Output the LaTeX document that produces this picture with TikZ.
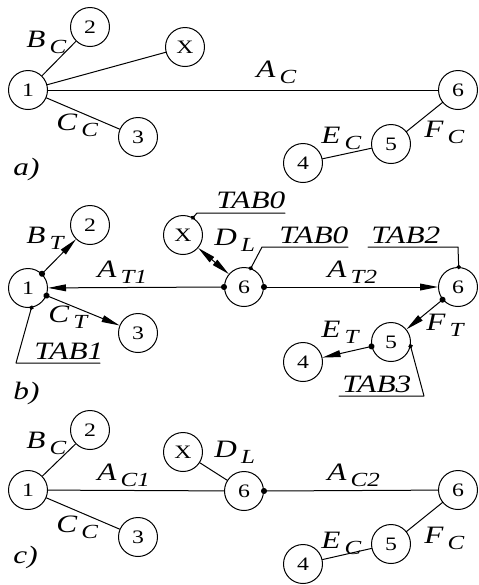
\documentclass[tikz,border=0pt]{standalone}
\usepackage{fontspec}
\setmainfont{Liberation Serif}[FakeStretch=1.25]
\usetikzlibrary{arrows.meta}
\newcommand{\lbl}[2]{\textit{#1}\,\raisebox{-3pt}{\fontsize{10}{11}\selectfont\textit{#2}}}

\begin{document}
\begin{tikzpicture}[x=0.5pt,y=-0.5pt,line cap=round,line join=round,
  stn/.style={circle,draw,line width=0.5pt,minimum size=19.5pt,inner sep=0pt,font=\fontsize{9.5}{10}\selectfont},
  lab/.style={anchor=base west,inner sep=0pt,font=\fontsize{12.5}{13}\selectfont\itshape},
  edge/.style={line width=0.5pt},
  flow/.style={line width=0.5pt,{Circle[length=3pt]}-{Triangle[length=9pt,width=3.4pt]},shorten <=-1.5pt},
  both/.style={line width=0.5pt,{Triangle[length=9pt,width=3.4pt]}-{Triangle[length=9pt,width=3.4pt]}},
  leader/.style={line width=0.5pt,{Circle[length=2.2pt]}-,shorten <=-1.1pt}]
  \useasboundingbox (0,0) rectangle (478,585);
  % a)
  \node[stn] (a1) at (28,90) {1};
  \node[stn] (a2) at (90,27) {2};
  \node[stn] (aX) at (185,47) {X};
  \node[stn] (a3) at (138,137) {3};
  \node[stn] (a6) at (458,90) {6};
  \node[stn] (a5) at (391,144) {5};
  \node[stn] (a4) at (303,163) {4};
  \draw[edge] (a1) -- (a2);
  \draw[edge] (a1) -- (aX);
  \draw[edge] (a1) -- (a3);
  \draw[edge] (a1) -- (a6);
  \draw[edge] (a6) -- (a5);
  \draw[edge] (a5) -- (a4);
  \node[lab] (aB) at (26,47) {\lbl{B}{C}};
  \node[lab] (aC) at (56,130) {\lbl{C}{C}};
  \node[lab] (aA) at (256,77) {\lbl{A}{C}};
  \node[lab] (aE) at (321,143) {\lbl{E}{C}};
  \node[lab] (aF) at (424,137) {\lbl{F}{C}};
  \node[lab] (ta) at (13,175) {a)};
  % b)
  \node[stn] (b1) at (28,288) {1};
  \node[stn] (b2) at (90,225) {2};
  \node[stn] (b3) at (138,333) {3};
  \node[stn] (bX) at (183,235) {X};
  \node[stn] (b6m) at (244,287) {6};
  \node[stn] (b6) at (458,287) {6};
  \node[stn] (b5) at (391,342) {5};
  \node[stn] (b4) at (303,362) {4};
  \draw[flow] (b6m.west) -- (b1);
  \draw[flow] (b6m.east) -- (b6);
  \draw[flow] (b1) -- (b2);
  \draw[flow] (b1) -- (b3);
  \draw[flow] (b6) -- (b5);
  \draw[flow] (b5) -- (b4);
  \draw[both] (bX) -- (b6m);
  \node[lab] (bB) at (26,243) {\lbl{B}{T}};
  \node[lab] (bA1) at (97,277) {\lbl{A}{T1}};
  \node[lab] (bC) at (48,322) {\lbl{C}{T}};
  \node[lab] (bD) at (214,245) {\lbl{D}{L}};
  \node[lab] (bA2) at (327,277) {\lbl{A}{T2}};
  \node[lab] (bE) at (321,337) {\lbl{E}{T}};
  \node[lab] (bF) at (426,330) {\lbl{F}{T}};
  \node[lab] (tab0x) at (216,208) {TAB0};
  \node[lab] (tab0) at (279,243) {TAB0};
  \node[lab] (tab2) at (371,243) {TAB2};
  \node[lab] (tab1) at (34,359) {TAB1};
  \node[lab] (tab3) at (342,392) {TAB3};
  \coordinate (u0x) at (197,213);
  \coordinate (v0x) at (285,213);
  \coordinate (u0) at (262,247);
  \coordinate (v0) at (348,247);
  \coordinate (u2) at (368,247);
  \coordinate (v2) at (458,247);
  \coordinate (u1) at (16,363);
  \coordinate (v1) at (100,363);
  \coordinate (u3) at (424,396);
  \coordinate (v3) at (339,396);
  \draw[leader] (bX.60) -- (u0x) -- (v0x);
  \draw[leader] (b6m.70) -- (u0) -- (v0);
  \draw[leader] (b6.88) -- (v2) -- (u2);
  \draw[leader] (b1.-80) -- (u1) -- (v1);
  \draw[leader] (b5.-12) -- (u3) -- (v3);
  \node[lab] (tb) at (13,399) {b)};
  % c)
  \node[stn] (c1) at (28,490) {1};
  \node[stn] (c2) at (90,430) {2};
  \node[stn] (c3) at (138,537) {3};
  \node[stn] (cX) at (183,452) {X};
  \node[stn] (c6m) at (244,491) {6};
  \node[stn] (c6) at (458,490) {6};
  \node[stn] (c5) at (391,544) {5};
  \node[stn] (c4) at (303,564) {4};
  \draw[edge] (c1) -- (c2);
  \draw[edge] (c1) -- (c3);
  \draw[edge] (c1) -- (c6m);
  \draw[edge] (cX) -- (c6m);
  \draw[edge,{Circle[length=3pt]}-,shorten <=-1.5pt] (c6m.east) -- (c6);
  \draw[edge] (c6) -- (c5);
  \draw[edge] (c5) -- (c4);
  \node[lab] (cB) at (26,448) {\lbl{B}{C}};
  \node[lab] (cA1) at (97,480) {\lbl{A}{C1}};
  \node[lab] (cC) at (56,532) {\lbl{C}{C}};
  \node[lab] (cD) at (214,457) {\lbl{D}{L}};
  \node[lab] (cA2) at (327,480) {\lbl{A}{C2}};
  \node[lab] (cE) at (321,548) {\lbl{E}{C}};
  \node[lab] (cF) at (424,543) {\lbl{F}{C}};
  \node[lab] (tc) at (13,563) {c)};
\end{tikzpicture}
\end{document}
